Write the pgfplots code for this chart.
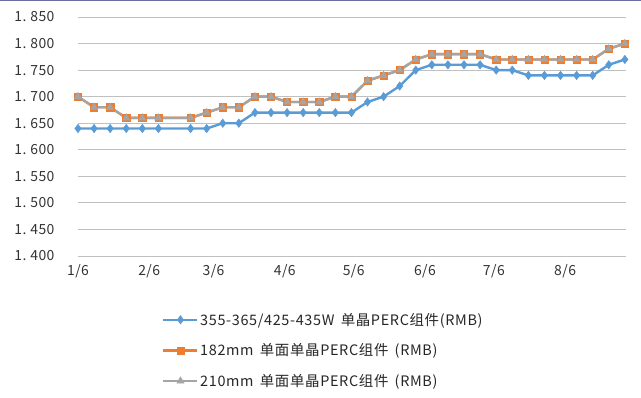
\documentclass[border=0pt]{standalone}
\usepackage{pgfplots}
\pgfplotsset{compat=1.18}
\usepackage{fontspec}
\setmainfont{Noto Sans CJK SC}
\newfontfamily\legfont[LetterSpace=4.5]{Noto Sans CJK SC}
\newfontfamily\tickfont[LetterSpace=3]{Noto Sans CJK SC}
\definecolor{cblue}{HTML}{5B9BD5}
\definecolor{corange}{HTML}{ED7D31}
\definecolor{cgray}{HTML}{A5A5A5}
\definecolor{cgrid}{HTML}{C0C0C0}
\definecolor{cframe}{HTML}{6B6B9E}
\begin{document}
\begin{tikzpicture}
\useasboundingbox (0bp,0bp) rectangle (641bp,398bp);
\draw[cframe,line width=1.2bp] (0bp,397.4bp) -- (641bp,397.4bp);
\begin{axis}[
  at={(78bp,142bp)}, anchor=south west,
  width=548bp, height=239bp, scale only axis,
  xmin=0, xmax=238.5, ymin=1.4, ymax=1.85,
  ytick={1.4,1.45,...,1.851},
  xtick={0,31,59,90,120,151,181,212},
  xticklabels={1/6,2/6,3/6,4/6,5/6,6/6,7/6,8/6},
  axis line style={draw=none},
  major tick length=0pt,
  ymajorgrids, grid style={cgrid,line width=0.9bp},
  /pgf/number format/assume math mode=true,
  yticklabel style={/pgf/number format/fixed,/pgf/number format/fixed zerofill,/pgf/number format/precision=3,/pgf/number format/set decimal separator={.\hspace{4bp}},xshift=-20bp},
  ticklabel style={font=\tickfont\fontsize{14}{15}\selectfont, text=black!80},
  xticklabel style={yshift=-5bp},
  legend style={at={(0.148,-0.225)}, anchor=north west, draw=none, fill=none,
    font=\legfont\fontsize{14.5}{15}\selectfont, row sep=15bp,
    nodes={inner xsep=1.5bp, inner ysep=1bp, text=black!85}},
  legend cell align=left,
  legend image code/.code={\draw[mark repeat=2,mark phase=2] plot coordinates {(0bp,0bp) (17bp,0bp) (34bp,0bp)};},
]
\addplot[cblue, line width=2.4bp, mark=diamond*, mark size=4.2bp, mark options={fill=cblue,draw=cblue,line width=0.5bp}] coordinates {
(0,1.64)(7,1.64)(14,1.64)(21,1.64)(28,1.64)(35,1.64)(49,1.64)(56,1.64)(63,1.65)(70,1.65)
(77,1.67)(84,1.67)(91,1.67)(98,1.67)(105,1.67)(112,1.67)(119,1.67)(126,1.69)(133,1.70)(140,1.72)
(147,1.75)(154,1.76)(161,1.76)(168,1.76)(175,1.76)(182,1.75)(189,1.75)(196,1.74)(203,1.74)(210,1.74)
(217,1.74)(224,1.74)(231,1.76)(238,1.77)};
\addlegendentry{355-365/425-435W \,单晶PERC组件(RMB)}
\addplot[corange, line width=2.4bp, mark=square*, mark size=3.6bp, mark options={fill=corange,draw=corange,line width=0.5bp}] coordinates {
(0,1.70)(7,1.68)(14,1.68)(21,1.66)(28,1.66)(35,1.66)(49,1.66)(56,1.67)(63,1.68)(70,1.68)
(77,1.70)(84,1.70)(91,1.69)(98,1.69)(105,1.69)(112,1.70)(119,1.70)(126,1.73)(133,1.74)(140,1.75)
(147,1.77)(154,1.78)(161,1.78)(168,1.78)(175,1.78)(182,1.77)(189,1.77)(196,1.77)(203,1.77)(210,1.77)
(217,1.77)(224,1.77)(231,1.79)(238,1.80)};
\addlegendentry{182mm \,单面单晶PERC组件 \,(RMB)}
\addplot[cgray, line width=2.4bp, mark=triangle*, mark size=4.2bp, mark options={fill=cgray,draw=cgray,line width=0.5bp}] coordinates {
(0,1.70)(7,1.68)(14,1.68)(21,1.66)(28,1.66)(35,1.66)(49,1.66)(56,1.67)(63,1.68)(70,1.68)
(77,1.70)(84,1.70)(91,1.69)(98,1.69)(105,1.69)(112,1.70)(119,1.70)(126,1.73)(133,1.74)(140,1.75)
(147,1.77)(154,1.78)(161,1.78)(168,1.78)(175,1.78)(182,1.77)(189,1.77)(196,1.77)(203,1.77)(210,1.77)
(217,1.77)(224,1.77)(231,1.79)(238,1.80)};
\addlegendentry{210mm \,单面单晶PERC组件 \,(RMB)}
\end{axis}
\end{tikzpicture}
\end{document}
